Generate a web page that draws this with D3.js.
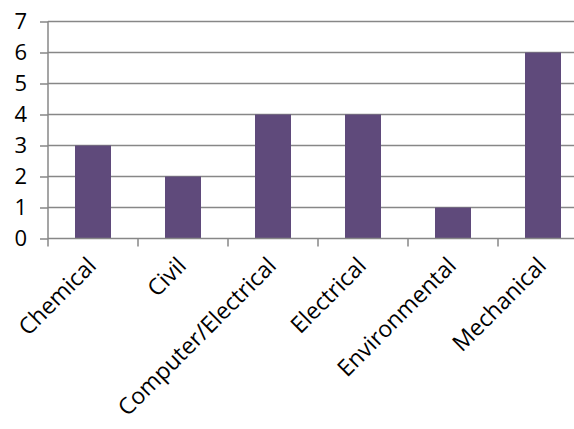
<!DOCTYPE html>
<html>
<head>
<meta charset="utf-8">
<script src="https://cdn.jsdelivr.net/npm/d3@7"></script>
<style>
  html, body { margin: 0; padding: 0; background: #fff; }
  svg { display: block; }
  text { font-family: "Open Sans", "Noto Sans", sans-serif; fill: #000; }
</style>
</head>
<body>
<svg id="chart" width="574" height="429"></svg>
<script>
// Count of entries per engineering discipline
const categories = ["Chemical", "Civil", "Computer/Electrical", "Electrical", "Environmental", "Mechanical"];
const counts = [3, 2, 4, 4, 1, 6];
const yTicks = [0, 1, 2, 3, 4, 5, 6, 7];

const svg = d3.select("#chart");
const plotLeft = 48, plotRight = 588, plotTop = 21.5, plotBottom = 238.5;

const x = d3.scaleBand().domain(categories).range([plotLeft, plotRight]).paddingInner(0.6).paddingOuter(0.3);
const y = d3.scaleLinear().domain([0, 7]).range([plotBottom, plotTop]);
const gridColor = "#878787";

// horizontal gridlines
svg.append("g")
  .selectAll("line")
  .data(yTicks.filter(d => d > 0))
  .join("line")
  .attr("x1", plotLeft).attr("x2", 574)
  .attr("y1", d => y(d)).attr("y2", d => y(d))
  .attr("stroke", gridColor).attr("stroke-width", 1.5);

// bars
svg.append("g")
  .selectAll("rect")
  .data(categories.map((c, i) => ({ c, v: counts[i] })))
  .join("rect")
  .attr("x", d => x(d.c))
  .attr("width", x.bandwidth())
  .attr("y", d => y(d.v))
  .attr("height", d => y(0) - y(d.v))
  .attr("fill", "#5f4a7b");

// y axis
const yAxis = svg.append("g")
  .attr("transform", `translate(${plotLeft},0)`)
  .call(d3.axisLeft(y).tickValues(yTicks).tickFormat(d3.format("d")).tickSize(8).tickPadding(13));
yAxis.select(".domain").attr("stroke", gridColor).attr("stroke-width", 1.5).attr("d", `M0,${plotTop}V${plotBottom}`);
yAxis.selectAll(".tick line").attr("stroke", gridColor).attr("stroke-width", 1.5);
yAxis.selectAll(".tick text").attr("font-size", 22).attr("font-family", "Open Sans").attr("fill", "#000");

// x axis with ticks at category boundaries
const boundaries = categories.map(c => x(c) - x.step() * x.paddingInner() / 2);
const xg = svg.append("g");
xg.append("line")
  .attr("x1", plotLeft).attr("x2", 574)
  .attr("y1", plotBottom).attr("y2", plotBottom)
  .attr("stroke", gridColor).attr("stroke-width", 1.5);
xg.selectAll("line.tick")
  .data(boundaries)
  .join("line")
  .attr("class", "tick")
  .attr("x1", d => d).attr("x2", d => d)
  .attr("y1", plotBottom).attr("y2", plotBottom + 8)
  .attr("stroke", gridColor).attr("stroke-width", 1.5);

xg.selectAll("text")
  .data(categories)
  .join("text")
  .attr("transform", c => `translate(${x(c) + x.bandwidth() / 2 - 1},${plotBottom + 23}) rotate(-45)`)
  .attr("text-anchor", "end")
  .attr("dy", "0.35em")
  .attr("font-size", 23)
  .text(c => c);
</script>
</body>
</html>
